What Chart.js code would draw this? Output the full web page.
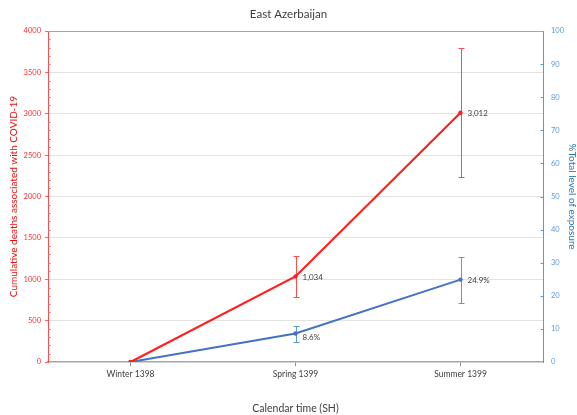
<!DOCTYPE html>
<html>
<head>
<meta charset="utf-8">
<script src="https://cdn.jsdelivr.net/npm/chart.js@4"></script>
<style>
html,body{margin:0;padding:0;background:#fff;}
#wrap{width:577px;height:415px;}
</style>
</head>
<body>
<div id="wrap"><canvas id="c" width="577" height="415"></canvas></div>
<script>
const categories = ['Winter 1398', 'Spring 1399', 'Summer 1399'];
const deaths = [0, 1034, 3012];
const deathsLow = [null, 785, 2232];
const deathsHigh = [null, 1282, 3792];
const deathLabels = ['', '1,034', '3,012'];
const exposure = [0, 8.6, 24.9];
const exposureLow = [null, 6.1, 17.8];
const exposureHigh = [null, 10.8, 31.8];
const exposureLabels = ['', '8.6%', '24.9%'];
const leftTicks = [0, 500, 1000, 1500, 2000, 2500, 3000, 3500, 4000];
const rightTicks = [0, 10, 20, 30, 40, 50, 60, 70, 80, 90, 100];

const FONT = 'Lato, "Open Sans", sans-serif';
const RED = '#ff1f1f';
const BLUE = '#4472c4';

const extrasPlugin = {
  id: 'extras',
  beforeDatasetsDraw(chart) {
    const ctx = chart.ctx;
    const x = chart.scales.x;
    const sets = [
      {scale: chart.scales.y, low: deathsLow, high: deathsHigh, color: '#ff4d4d'},
      {scale: chart.scales.y1, low: exposureLow, high: exposureHigh, color: '#5b9bd5'}
    ];
    ctx.save();
    ctx.lineWidth = 1;
    sets.forEach(s => {
      ctx.strokeStyle = s.color;
      categories.forEach((c, i) => {
        if (s.low[i] == null) return;
        const px = Math.round(x.getPixelForValue(i)) + 0.5;
        const y1 = Math.round(s.scale.getPixelForValue(s.low[i])) + 0.5;
        const y2 = Math.round(s.scale.getPixelForValue(s.high[i])) + 0.5;
        ctx.beginPath();
        ctx.moveTo(px, y1); ctx.lineTo(px, y2);
        ctx.moveTo(px - 3, y1); ctx.lineTo(px + 3, y1);
        ctx.moveTo(px - 3, y2); ctx.lineTo(px + 3, y2);
        ctx.stroke();
      });
    });
    ctx.restore();
  },
  afterDatasetsDraw(chart) {
    const ctx = chart.ctx;
    const x = chart.scales.x;
    ctx.save();
    ctx.font = '8px ' + FONT;
    ctx.fillStyle = '#404040';
    ctx.textBaseline = 'middle';
    ctx.textAlign = 'left';
    categories.forEach((c, i) => {
      const px = x.getPixelForValue(i);
      if (deathLabels[i]) ctx.fillText(deathLabels[i], px + 7, chart.scales.y.getPixelForValue(deaths[i]) + 1);
      if (exposureLabels[i]) ctx.fillText(exposureLabels[i], px + 7, chart.scales.y1.getPixelForValue(exposure[i]) + (i === 1 ? 4 : 1));
    });
    ctx.restore();
  },
  afterDraw(chart) {
    const ctx = chart.ctx;
    const a = chart.chartArea;
    const y = chart.scales.y, y1 = chart.scales.y1;
    ctx.save();
    ctx.lineWidth = 1;
    ctx.strokeStyle = '#a6a6a6';
    ctx.beginPath();
    ctx.moveTo(a.left, Math.round(a.top) + 0.5);
    ctx.lineTo(a.right, Math.round(a.top) + 0.5);
    ctx.stroke();
    ctx.strokeStyle = '#ff6060';
    ctx.beginPath();
    for (let v = 100; v < 4000; v += 100) {
      if (v % 500 === 0) continue;
      const py = Math.round(y.getPixelForValue(v)) + 0.5;
      ctx.moveTo(a.left, py); ctx.lineTo(a.left + 2.5, py);
    }
    ctx.stroke();
    ctx.strokeStyle = '#5b9bd5';
    ctx.beginPath();
    for (let v = 10; v < 100; v += 10) {
      const py = Math.round(y1.getPixelForValue(v)) + 0.5;
      ctx.moveTo(a.right - 2.5, py); ctx.lineTo(a.right, py);
    }
    ctx.stroke();
    ctx.restore();
  }
};

new Chart(document.getElementById('c'), {
  type: 'line',
  data: {
    labels: categories,
    datasets: [
      {
        label: 'Cumulative deaths',
        data: deaths,
        yAxisID: 'y',
        borderColor: RED,
        backgroundColor: RED,
        borderWidth: 2.2,
        pointRadius: 2.2,
        pointBorderWidth: 0,
        pointBackgroundColor: RED,
        tension: 0
      },
      {
        label: 'Exposure',
        data: exposure,
        yAxisID: 'y1',
        borderColor: BLUE,
        backgroundColor: BLUE,
        borderWidth: 2,
        pointRadius: 2.2,
        pointBorderWidth: 0,
        pointBackgroundColor: BLUE,
        tension: 0
      }
    ]
  },
  options: {
    responsive: false,
    animation: false,
    layout: {padding: {left: 0, right: 0, top: 0, bottom: 0}},
    plugins: {
      legend: {display: false},
      tooltip: {enabled: false},
      title: {
        display: true,
        text: 'East Azerbaijan',
        color: '#404040',
        font: {family: FONT, size: 11.5, weight: 'normal'},
        padding: {top: 7.5, bottom: 9.7}
      }
    },
    scales: {
      x: {
        offset: true,
        grid: {drawOnChartArea: false, drawTicks: true, tickLength: 4, tickColor: '#8c8c8c', offset: false},
        border: {color: '#a6a6a6', width: 1.5},
        ticks: {color: '#404040', font: {family: FONT, size: 8.5}, padding: 3, maxRotation: 0},
        title: {display: true, text: 'Calendar time (SH)', color: '#404040', font: {family: FONT, size: 10.5}, padding: {top: 0, bottom: 0.5}},
        afterFit(s) { s.height = 53; }
      },
      y: {
        position: 'left',
        min: 0, max: 4000,
        afterBuildTicks(s) { s.ticks = leftTicks.map(v => ({value: v})); },
        grid: {
          color: ctx => (ctx.tick && (ctx.tick.value === 4000 || ctx.tick.value === 0)) ? 'rgba(0,0,0,0)' : '#e3e3e3',
          drawTicks: true, tickLength: 3, tickColor: '#ff6060'
        },
        border: {color: '#ff4d4d', width: 1},
        ticks: {color: '#ff3030', font: {family: FONT, size: 7.5}, padding: 4, callback: v => String(v)},
        title: {display: true, text: 'Cumulative deaths associated with COVID-19', color: '#e81010', font: {family: FONT, size: 10}, padding: {top: 8, bottom: 0}},
        afterFit(s) { s.width = 48; }
      },
      y1: {
        position: 'right',
        min: 0, max: 100,
        afterBuildTicks(s) { s.ticks = rightTicks.map(v => ({value: v})); },
        grid: {drawOnChartArea: false, drawTicks: false},
        border: {color: '#5b9bd5', width: 1},
        ticks: {color: '#5b9bd5', font: {family: FONT, size: 7.5}, padding: 8, callback: v => String(v)},
        title: {display: true, text: '%Total level of exposure', color: '#2e75b6', font: {family: FONT, size: 10, lineHeight: 1}, padding: {top: 0, bottom: 0}},
        afterFit(s) { s.width = 34; }
      }
    }
  },
  plugins: [extrasPlugin]
});
</script>
</body>
</html>
